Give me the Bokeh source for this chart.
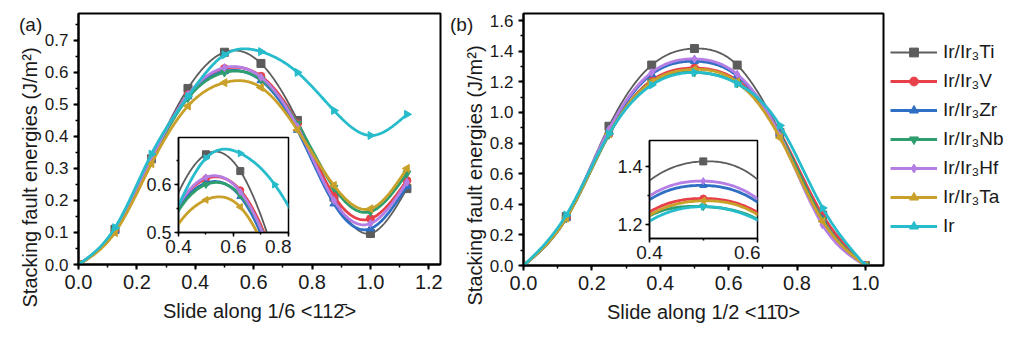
import numpy as np
from bokeh.plotting import figure
from bokeh.models import (Range1d, SingleIntervalTicker, NumeralTickFormatter, Title,
                          Legend, LegendItem, Div)
from bokeh.layouts import column
from bokeh.embed import file_html
from bokeh.resources import INLINE

# ---------------- data ----------------
series_names = ["Ir/Ir\u2083Ti", "Ir/Ir\u2083V", "Ir/Ir\u2083Zr", "Ir/Ir\u2083Nb",
                "Ir/Ir\u2083Hf", "Ir/Ir\u2083Ta", "Ir"]

# (a) slide along 1/6 <11-2>
a_x = [0, 0.125, 0.25, 0.375, 0.5, 0.625, 0.75, 0.875, 1.0, 1.125]
a_ti = [0, 0.110, 0.330, 0.550, 0.663, 0.628, 0.450, 0.210, 0.097, 0.237]
a_v = [0, 0.105, 0.330, 0.530, 0.612, 0.588, 0.440, 0.215, 0.143, 0.262]
a_zr = [0, 0.105, 0.330, 0.525, 0.603, 0.575, 0.420, 0.190, 0.112, 0.245]
a_nb = [0, 0.105, 0.325, 0.520, 0.600, 0.578, 0.440, 0.240, 0.165, 0.285]
a_hf = [0, 0.105, 0.330, 0.530, 0.615, 0.585, 0.430, 0.200, 0.128, 0.257]
a_ta = [0, 0.100, 0.315, 0.495, 0.568, 0.553, 0.420, 0.247, 0.174, 0.300]
a_ir = [0, 0.115, 0.345, 0.525, 0.655, 0.665, 0.600, 0.481, 0.403, 0.469]

# (b) slide along 1/2 <1-10>
b_x = [0, 0.125, 0.25, 0.375, 0.5, 0.625, 0.75, 0.875, 1.0]
b_ti = [0, 0.32, 0.91, 1.310, 1.418, 1.310, 0.87, 0.330, 0]
b_v = [0, 0.31, 0.86, 1.210, 1.290, 1.210, 0.87, 0.330, 0]
b_zr = [0, 0.31, 0.88, 1.250, 1.335, 1.240, 0.86, 0.300, 0]
b_nb = [0, 0.31, 0.855, 1.200, 1.262, 1.190, 0.86, 0.300, 0]
b_hf = [0, 0.32, 0.89, 1.262, 1.350, 1.250, 0.85, 0.265, 0]
b_ta = [0, 0.31, 0.86, 1.200, 1.282, 1.200, 0.835, 0.290, 0]
b_ir = [0, 0.33, 0.86, 1.180, 1.262, 1.190, 0.915, 0.376, 0]

a_series = [a_ti, a_v, a_zr, a_nb, a_hf, a_ta, a_ir]
b_series = [b_ti, b_v, b_zr, b_nb, b_hf, b_ta, b_ir]

y_title = "Stacking fault energies (J/m\u00b2)"
a_xlabel = "Slide along 1/6 <112\u0304>"
b_xlabel = "Slide along 1/2 <11\u03040>"

# ---------------- styles ----------------
colors = ["#5c5c5c", "#e8404a", "#2f6fc4", "#2e9e6e", "#b47ee5", "#c9a02a", "#27bccb"]
markers = ["square", "circle", "triangle", "inverted_triangle", "diamond", "triangle", "triangle"]
angles = [0, 0, 0, 0, 0, np.pi / 2, -np.pi / 2]
widths = [1.8, 2.8, 2.8, 2.8, 2.8, 2.8, 2.8]
FONT = "Liberation Sans"
TXT = "#1a1a1a"
LEFT = 78  # common left border (column aligns left borders)


def smooth(xs, ys, num=300):
    """Natural cubic spline through the read points (drawing only)."""
    xs = np.asarray(xs, float)
    ys = np.asarray(ys, float)
    n = len(xs)
    h = np.diff(xs)
    A = np.zeros((n, n))
    r = np.zeros(n)
    A[0, 0] = A[-1, -1] = 1
    for i in range(1, n - 1):
        A[i, i - 1] = h[i - 1]
        A[i, i] = 2 * (h[i - 1] + h[i])
        A[i, i + 1] = h[i]
        r[i] = 6 * ((ys[i + 1] - ys[i]) / h[i] - (ys[i] - ys[i - 1]) / h[i - 1])
    M = np.linalg.solve(A, r)
    xx = np.linspace(xs[0], xs[-1], num)
    idx = np.clip(np.searchsorted(xs, xx) - 1, 0, n - 2)
    x0 = xs[idx]
    x1 = xs[idx + 1]
    hh = x1 - x0
    a = (x1 - xx) / hh
    b = (xx - x0) / hh
    yy = a * ys[idx] + b * ys[idx + 1] + ((a ** 3 - a) * M[idx] + (b ** 3 - b) * M[idx + 1]) * hh ** 2 / 6
    return xx, yy


def style_axes(p, xfs, yfs, tick_out=5, minor_out=3, standoff=5, lw=2):
    for ax in (p.xaxis[0], p.yaxis[0]):
        ax.axis_line_width = lw
        ax.axis_line_color = "black"
        ax.major_tick_line_width = lw
        ax.minor_tick_line_width = 1.5
        ax.major_tick_out = tick_out
        ax.major_tick_in = 0
        ax.minor_tick_out = minor_out
        ax.minor_tick_in = 0
        ax.major_label_text_font = FONT
        ax.major_label_text_color = TXT
        ax.major_label_standoff = standoff
        ax.axis_label_text_font = FONT
        ax.axis_label_text_font_style = "normal"
        ax.axis_label_text_color = TXT
        ax.formatter = NumeralTickFormatter(format="0.0")
    p.xaxis[0].major_label_text_font_size = xfs
    p.yaxis[0].major_label_text_font_size = yfs
    p.xgrid.visible = False
    p.ygrid.visible = False
    p.outline_line_color = "black"
    p.outline_line_width = lw
    p.outline_line_alpha = 1


def add_series(p, xs, series, msize=8):
    items = []
    for name, ys, c, m, ang, w in zip(series_names, series, colors, markers, angles, widths):
        sx, sy = smooth(xs, ys)
        lr = p.line(sx, sy, line_color=c, line_width=w)
        sr = p.scatter(xs, ys, marker=m, size=msize, angle=ang, fill_color=c, line_color=c)
        items.append(LegendItem(label=name, renderers=[lr, sr]))
    return items


def make_main(xr, yr, xint, yint, frame_w, frame_h, right, xlabel, title_offset):
    p = figure(output_backend="svg", toolbar_location=None,
               frame_width=frame_w, frame_height=frame_h,
               min_border_left=LEFT, min_border_right=right,
               min_border_top=13, min_border_bottom=355 - 13 - frame_h,
               x_range=Range1d(*xr), y_range=Range1d(*yr))
    p.xaxis.ticker = SingleIntervalTicker(interval=xint, num_minor_ticks=2)
    p.yaxis.ticker = SingleIntervalTicker(interval=yint, num_minor_ticks=2)
    style_axes(p, "20px", "17px")
    p.xaxis.axis_label = xlabel
    p.xaxis.axis_label_text_font_size = "20px"
    p.xaxis.axis_label_standoff = 8
    p.border_fill_color = "white"
    p.add_layout(Title(text=y_title, align="left", offset=title_offset,
                       text_font=FONT, text_font_size="20px", text_font_style="normal",
                       text_color=TXT, standoff=2), "left")
    return p


# ---------------- panel (a) ----------------
fa = make_main((0, 1.24), (0, 0.784), 0.2, 0.1, 362, 251, 15, a_xlabel, -43)
add_series(fa, a_x, a_series)

# ---------------- panel (b) ----------------
fb = make_main((0, 1.053), (0, 1.647), 0.2, 0.2, 360, 252,
               1022 - 445 - LEFT - 360, b_xlabel, -40)
items = add_series(fb, b_x, b_series)
legend = Legend(items=items, location="center_left", margin=7, padding=0,
                glyph_width=47, glyph_height=22, label_height=22, spacing=7,
                label_standoff=6, label_text_font=FONT, label_text_font_size="19px",
                label_text_color=TXT, border_line_alpha=0, background_fill_alpha=0)
fb.add_layout(legend, "right")


# ---------------- insets ----------------
def make_inset(xs, series, xr, yr, xint, yint, frame_w, frame_h, bottom):
    p = figure(output_backend="svg", toolbar_location=None,
               frame_width=frame_w, frame_height=frame_h,
               min_border_left=LEFT, min_border_right=3,
               min_border_top=3, min_border_bottom=bottom,
               x_range=Range1d(*xr), y_range=Range1d(*yr))
    p.xaxis.ticker = SingleIntervalTicker(interval=xint, num_minor_ticks=2)
    p.yaxis.ticker = SingleIntervalTicker(interval=yint, num_minor_ticks=2)
    style_axes(p, "19px", "18px", tick_out=4, minor_out=2, standoff=3, lw=1.5)
    p.border_fill_alpha = 0
    p.background_fill_color = "white"
    add_series(p, xs, series, msize=7)
    return p


ia = make_inset(a_x, a_series, (0.4, 0.8005), (0.5, 0.698), 0.2, 0.1, 110, 95, 32)
ib = make_inset(b_x, b_series, (0.4, 0.6008), (1.152, 1.49), 0.2, 0.2, 108, 98, 32)

# panel tags
tag_style = {"font-family": FONT, "font-size": "19px", "color": TXT, "z-index": "6"}
tag_a = Div(text="(a)", width=30, height=24,
            styles=dict(tag_style, position="absolute", left="14px", top="6px"))
tag_b = Div(text="(b)", width=30, height=24,
            styles=dict(tag_style, position="absolute", left="445px", top="6px"))

fa.styles = {"position": "absolute", "left": "0px", "top": "0px"}
fb.styles = {"position": "absolute", "left": "445px", "top": "0px"}
ia.styles = {"position": "absolute", "left": f"{178 - LEFT}px", "top": "134px", "z-index": "5"}
ib.styles = {"position": "absolute", "left": f"{649 - LEFT}px", "top": "137px", "z-index": "5"}

p = column(fa, fb, ia, ib, tag_a, tag_b, width=1022, height=355, sizing_mode="fixed",
           styles={"position": "relative"})

open("out.html", "w").write(file_html(p, INLINE))
